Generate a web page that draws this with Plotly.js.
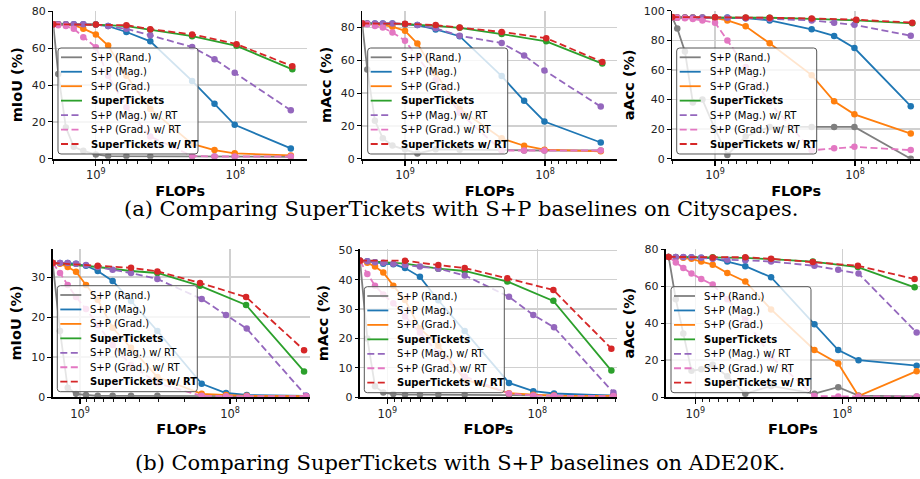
<!DOCTYPE html>
<html><head><meta charset="utf-8">
<script src="https://cdn.plot.ly/plotly-3.0.1.min.js"></script>
<style>html,body{margin:0;padding:0;background:#fff}#chart{width:920px;height:479px}</style>
</head><body><div id="chart"></div>
<script>
// ---------- data ----------
const seriesNames = ['S+P (Rand.)','S+P (Mag.)','S+P (Grad.)','SuperTickets','S+P (Mag.) w/ RT','S+P (Grad.) w/ RT','SuperTickets w/ RT'];
const yTitles = ['mIoU (%)','mAcc (%)','aAcc (%)','mIoU (%)','mAcc (%)','aAcc (%)'];
const majorTickVals = [1e9, 1e8];
const majorTickText = ['10<sup>9</sup>','10<sup>8</sup>'];
const minorTickVals = [2e9,9e8,8e8,7e8,6e8,5e8,4e8,3e8,2e8,9e7,8e7,7e7,6e7,5e7,4e7,3e7];
const captionA = '(a) Comparing SuperTickets with S+P baselines on Cityscapes.';
const captionB = '(b) Comparing SuperTickets with S+P baselines on ADE20K.';

// Cityscapes FLOPs
const cityFlops   = [2.02e9,1.86e9,1.64e9,1.44e9,1.23e9,1.0e9,8.16e8,6.04e8,4.07e8,2.04e8,1.41e8,1.01e8,4.0e7];
const cityStFlops = [2.02e9,1.0e9,6.04e8,4.07e8,2.04e8,9.8e7,3.9e7];
// Cityscapes mIoU
const cMiouRand  = [73,46,17,6.5,4.3,2.3,1.4,1.4,1.3,1.2,1.2,1.1,1.0];
const cMiouMag   = [73,73,73,73,73,72.8,72,68.8,63.7,42.2,29.8,18.4,5.6];
const cMiouGrad  = [73,73,72.8,72.5,70.6,67.5,61.4,45,27,8,4.7,2.9,1.8];
const cMiouSt    = [73,72.8,72,70,66.5,61.3,48.5];
const cMiouMagRT = [73,73,73,73,73,72.8,72,70.5,67,60.6,54,46.7,26.3];
const cMiouGradRT= [73,72.5,72,70.5,66,60.5,45,28,12,1.5,1.2,1.2,1.2];
const cMiouStRT  = [73,72.8,72.5,70.3,67.5,62.2,50.2];
// Cityscapes mAcc
const cMaccRand  = [82,54.4,23.1,12.4,8,5.7,3.2,5.7,5.5,5,5,5,5];
const cMaccMag   = [82.5,82.5,82.5,82.5,82.5,82,81.5,78.8,74.7,50.4,35.3,22.7,9.9];
const cMaccGrad  = [82.5,82.3,82,81.5,80.5,78,70.2,52,30.3,12.4,7.9,5.5,4.5];
const cMaccSt    = [82.5,82,81,79.8,76,71.6,58];
const cMaccMagRT = [82.5,82.5,82.5,82.5,82.5,82,81.5,79.5,75,70.5,63,53.8,31.8];
const cMaccGradRT= [82.5,82,81,80,77,72,62,48,28,5,5,5,5];
const cMaccStRT  = [82.5,82.3,81.5,80,77.3,73.5,59];
// Cityscapes aAcc
const cAaccRand  = [95.5,88,72.5,38,40,20,2.5,15,21.5,21.5,21.5,21.5,0];
const cAaccMag   = [95.5,95.5,95.5,95.5,95.5,95.5,95.5,95,93.5,87.5,83,74.8,35.5];
const cAaccGrad  = [95.5,95.5,95.5,95.5,95.3,95,93.5,89.5,78,56.5,38.8,30,17];
const cAaccSt    = [95.5,95.5,95.3,95.3,94.5,93.5,91.5];
const cAaccMagRT = [95.5,95.5,95.5,95.5,95.5,95.5,95.3,95,94.5,93.5,92,90.5,83.2];
const cAaccGradRT= [95.5,95.3,95,94.5,93.5,92,80,62,38,5.7,7,8,5.8];
const cAaccStRT  = [95.8,95.7,95.5,95.3,94.8,94,92];

// ADE20K FLOPs
const adeFlops   = [1.52e9,1.359e9,1.208e9,1.063e9,9.12e8,7.62e8,6.06e8,4.57e8,3.05e8,1.545e8,1.064e8,7.74e7,3.11e7];
const adeStFlops = [1.52e9,7.62e8,4.57e8,3.05e8,1.585e8,7.82e7,3.21e7];
// ADE20K mIoU
const aMiouRand  = [33.5,16.5,2.3,0.8,0.5,0.3,0.3,0.3,0.3,0.2,0.2,0.2,0.2];
const aMiouMag   = [33.5,33.5,33.5,33.3,32.8,31.5,29,24,16.5,3.3,1.0,0.5,0.3];
const aMiouGrad  = [33.5,33.3,32.5,31.3,28,24.3,17.3,12.3,5,0.8,0.5,0.3,0.2];
const aMiouSt    = [33.5,32.5,31.5,31,27.8,23,6.4];
const aMiouMagRT = [33.5,33.5,33.5,33.3,33,32.5,31.8,31,29.5,24.5,20.5,17.1,0.3];
const aMiouGradRT= [33.5,31,28,25,22,18,13,8,3.5,0.3,0.2,0.2,0.2];
const aMiouStRT  = [33.5,32.8,32.3,31.4,28.5,25,11.7];
// ADE20K mAcc
const aMaccRand  = [46.5,20,3.7,1.5,1,0.8,0.8,0.8,0.8,0.7,0.6,0.5,0.5];
const aMaccMag   = [46.5,46.3,46,45.5,45.3,44,41,33,22.5,4.8,2,1.2,0.5];
const aMaccGrad  = [46.5,45.8,44.5,42.5,38,33.1,23.4,17.5,6,1.3,0.8,0.5,0.4];
const aMaccSt    = [46.5,45.5,43.8,43,39.4,32.8,9];
const aMaccMagRT = [46.5,46.3,46,45.8,45.5,45,44.5,43.8,41.5,34.2,28,23.8,1.5];
const aMaccGradRT= [46.5,42,38,35,32,27.5,22,15,7,1.2,0.5,0.4,0.3];
const aMaccStRT  = [46.5,46.5,45,44,40.5,36.5,16.5];
// ADE20K aAcc
const aAaccRand  = [76,53,34.5,14.3,15,17.5,11.3,1.8,6,1.8,5.3,0.8,0.3];
const aAaccMag   = [76,76,75.8,75.8,75.5,75.3,73.5,71,65,39.5,25.5,20,17];
const aAaccGrad  = [76,75.8,75.5,75,73.5,71.8,67.3,62.7,47.5,25.5,18.2,0.5,14];
const aAaccSt    = [76,75.8,75.5,74.8,73.5,70.5,59.5];
const aAaccMagRT = [76,76,76,75.8,75.5,75,74.5,74.2,73.5,71.2,69,67,35];
const aAaccGradRT= [76,73,70,67,64,61,53,42,22,0.5,0.3,0.3,0.3];
const aAaccStRT  = [76,75.7,75.8,75,73.2,71.2,64];

// ---------- styles ----------
const seriesColors = ['#7f7f7f','#1f77b4','#ff7f0e','#2ca02c','#9467bd','#e377c2','#d62728'];
const seriesDash   = ['solid','solid','solid','solid','7px,3.5px','7px,3.5px','7px,3.5px'];
const usesStFlops  = [false,false,false,true,false,false,true];

const W = 920, H = 479;
const panels = [
  {vals:[cMiouRand,cMiouMag,cMiouGrad,cMiouSt,cMiouMagRT,cMiouGradRT,cMiouStRT], fl:cityFlops, st:cityStFlops,
   xd:[53.3,307], yd:[10.8,158.7], xr:[9.305,7.486], yr:[0,80.3], dt:20, lg:[58,48]},
  {vals:[cMaccRand,cMaccMag,cMaccGrad,cMaccSt,cMaccMagRT,cMaccGradRT,cMaccStRT], fl:cityFlops, st:cityStFlops,
   xd:[362.3,617], yd:[10.8,158.7], xr:[9.305,7.486], yr:[0,90.2], dt:20, lg:[367.7,48]},
  {vals:[cAaccRand,cAaccMag,cAaccGrad,cAaccSt,cAaccMagRT,cAaccGradRT,cAaccStRT], fl:cityFlops, st:cityStFlops,
   xd:[672.3,920], yd:[10.8,158.7], xr:[9.305,7.536], yr:[0,100], dt:20, lg:[676.7,48]},
  {vals:[aMiouRand,aMiouMag,aMiouGrad,aMiouSt,aMiouMagRT,aMiouGradRT,aMiouStRT], fl:adeFlops, st:adeStFlops,
   xd:[52.7,310], yd:[249,397], xr:[9.182,7.467], yr:[0,37], dt:10, lg:[57.3,285.7]},
  {vals:[aMaccRand,aMaccMag,aMaccGrad,aMaccSt,aMaccMagRT,aMaccGradRT,aMaccStRT], fl:adeFlops, st:adeStFlops,
   xd:[360,617], yd:[249,397], xr:[9.182,7.469], yr:[0,50.5], dt:10, lg:[364.3,286.7]},
  {vals:[aAaccRand,aAaccMag,aAaccGrad,aAaccSt,aAaccMagRT,aAaccGradRT,aAaccStRT], fl:adeFlops, st:adeStFlops,
   xd:[666,920], yd:[249,397], xr:[9.2,7.47], yr:[0,80.3], dt:20, lg:[671,286.7]}
];

const PX = p => p / W;
const PY = p => 1 - p / H;
const FONT = 'DejaVu Sans';

const traces = [];
const layout = {
  width: W, height: H, margin:{l:0,r:0,t:0,b:0},
  paper_bgcolor:'#fff', plot_bgcolor:'#fff', showlegend:false,
  font:{family:FONT, color:'#000'}, shapes:[], annotations:[]
};

panels.forEach((p, i) => {
  const n = i === 0 ? '' : String(i + 1);
  p.vals.forEach((v, s) => {
    traces.push({
      type:'scatter', mode:'lines+markers', name:seriesNames[s],
      x: usesStFlops[s] ? p.st : p.fl, y: v,
      xaxis:'x' + n, yaxis:'y' + n,
      line:{color:seriesColors[s], width:1.8, dash:seriesDash[s]},
      marker:{color:seriesColors[s], size:6.5, symbol:'circle'},
      cliponaxis:true, hoverinfo:'skip'
    });
  });
  layout['xaxis' + n] = {
    type:'log', autorange:false, range:p.xr, anchor:'y' + n,
    domain:[PX(p.xd[0]), PX(p.xd[1])],
    tickmode:'array', tickvals:majorTickVals, ticktext:majorTickText,
    ticks:'outside', ticklen:5, tickwidth:1.1, tickcolor:'#000',
    showline:true, linecolor:'#000', linewidth:1.8,
    showgrid:true, gridcolor:'#d0d0d0', gridwidth:1.3, zeroline:false,
    minor:{tickmode:'array', tickvals:minorTickVals, ticks:'outside', ticklen:3, tickwidth:0.9, tickcolor:'#000', showgrid:false},
    tickfont:{family:FONT, size:11.5, color:'#222'},
    title:{text:'FLOPs', font:{family:FONT, size:14.5, weight:'bold', color:'#000'}, standoff:4},
    automargin:false
  };
  layout['yaxis' + n] = {
    autorange:false, range:p.yr, anchor:'x' + n,
    domain:[PY(p.yd[1]), PY(p.yd[0])],
    tickmode:'linear', tick0:0, dtick:p.dt,
    ticks:'outside', ticklen:3.5, tickwidth:1, tickcolor:'#000',
    showline:true, linecolor:'#000', linewidth:1.8,
    showgrid:true, gridcolor:'#d0d0d0', gridwidth:1.3, zeroline:false,
    tickfont:{family:FONT, size:11, color:'#222'},
    title:{text:yTitles[i], font:{family:FONT, size:14.5, weight:'bold', color:'#000'}, standoff:6},
    automargin:false
  };

  // legend box (rounded)
  const l = p.lg[0], t = p.lg[1], w = 140, h = 106, r = 3;
  const R = l + w, B = t + h;
  const f = v => v.toFixed(5);
  const path = `M${f(PX(l+r))},${f(PY(t))} L${f(PX(R-r))},${f(PY(t))} Q${f(PX(R))},${f(PY(t))} ${f(PX(R))},${f(PY(t+r))} ` +
               `L${f(PX(R))},${f(PY(B-r))} Q${f(PX(R))},${f(PY(B))} ${f(PX(R-r))},${f(PY(B))} ` +
               `L${f(PX(l+r))},${f(PY(B))} Q${f(PX(l))},${f(PY(B))} ${f(PX(l))},${f(PY(B-r))} ` +
               `L${f(PX(l))},${f(PY(t+r))} Q${f(PX(l))},${f(PY(t))} ${f(PX(l+r))},${f(PY(t))} Z`;
  layout.shapes.push({type:'path', xref:'paper', yref:'paper', path:path,
    fillcolor:'rgba(255,255,255,0.8)', line:{color:'#555', width:1}, layer:'above'});
  seriesNames.forEach((nm, s) => {
    const yy = t + 9.3 + s * 14.45;
    layout.shapes.push({type:'line', xref:'paper', yref:'paper',
      x0:PX(l+3), x1:PX(l+24), y0:PY(yy), y1:PY(yy),
      line:{color:seriesColors[s], width:1.8, dash:seriesDash[s]}, layer:'above'});
    layout.annotations.push({xref:'paper', yref:'paper', x:PX(l+31), y:PY(yy),
      xanchor:'left', yanchor:'middle', showarrow:false,
      text:(s === 3 || s === 6) ? '<b>' + nm + '</b>' : nm,
      font:{family:FONT, size:10, color:'#000'}});
  });
});

layout.annotations.push({xref:'paper', yref:'paper', x:PX(460.5), y:PY(209), xanchor:'center', yanchor:'middle',
  showarrow:false, text:captionA, font:{family:'DejaVu Serif', size:21, color:'#000'}});
layout.annotations.push({xref:'paper', yref:'paper', x:PX(460), y:PY(463), xanchor:'center', yanchor:'middle',
  showarrow:false, text:captionB, font:{family:'DejaVu Serif', size:21, color:'#000'}});

Plotly.newPlot('chart', traces, layout, {displayModeBar:false, staticPlot:true});
</script>
</body></html>
